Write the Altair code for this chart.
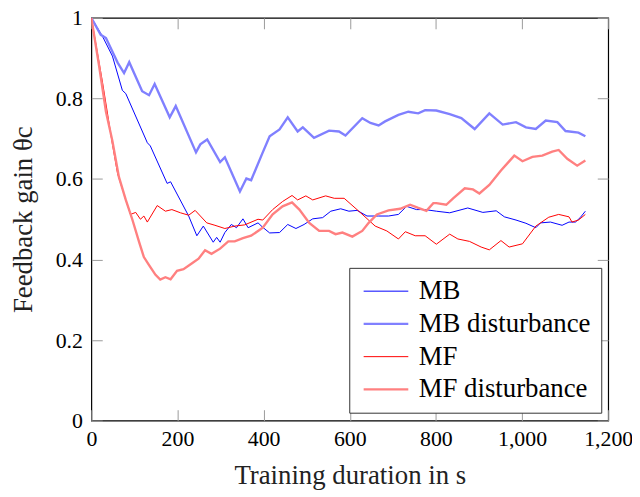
import altair as alt
import pandas as pd

# ---- data ----
series_names = ["MB", "MB disturbance", "MF", "MF disturbance"]

mb_t = [0, 26, 49, 72, 80, 130, 137, 176, 184, 226, 245, 260, 283, 291, 299, 310, 325, 337, 352, 364,
        387, 398, 414, 437, 456, 475, 494, 514, 537, 556, 579, 598, 617, 640, 667, 690, 713, 732, 755, 775,
        801, 832, 874, 909, 940, 959, 986, 1009, 1032, 1043, 1066, 1093, 1109, 1124, 1135, 1147]
mb_v = [1.0, 0.954, 0.905, 0.820, 0.812, 0.690, 0.682, 0.589, 0.593, 0.508, 0.459, 0.483, 0.443, 0.455, 0.443, 0.467, 0.487, 0.479, 0.501, 0.479,
        0.491, 0.480, 0.466, 0.467, 0.487, 0.477, 0.487, 0.501, 0.504, 0.520, 0.526, 0.520, 0.522, 0.508, 0.508, 0.508, 0.512, 0.532, 0.524, 0.524,
        0.520, 0.516, 0.528, 0.517, 0.521, 0.506, 0.498, 0.490, 0.479, 0.491, 0.493, 0.485, 0.493, 0.493, 0.504, 0.520]

mbd_t = [0, 22, 34, 61, 76, 88, 118, 134, 147, 182, 196, 243, 253, 269, 299, 310, 345, 360, 371, 398,
         414, 437, 456, 479, 491, 517, 552, 575, 590, 629, 648, 667, 682, 713, 736, 759, 775, 801, 832, 859,
         890, 924, 955, 986, 1009, 1032, 1055, 1082, 1101, 1131, 1147]
mbd_v = [1.0, 0.958, 0.950, 0.889, 0.863, 0.890, 0.818, 0.808, 0.836, 0.753, 0.781, 0.666, 0.686, 0.698, 0.642, 0.654, 0.569, 0.601, 0.597, 0.666,
         0.706, 0.723, 0.753, 0.718, 0.728, 0.702, 0.720, 0.718, 0.708, 0.751, 0.739, 0.733, 0.743, 0.759, 0.767, 0.763, 0.771, 0.770, 0.761, 0.751,
         0.724, 0.763, 0.735, 0.741, 0.728, 0.724, 0.745, 0.741, 0.719, 0.715, 0.706]

mf_t = [0, 26, 49, 61, 80, 91, 103, 114, 122, 130, 153, 172, 187, 207, 226, 241, 268, 287, 310, 333,
        356, 387, 398, 421, 444, 466, 479, 498, 514, 544, 564, 587, 621, 659, 686, 713, 729, 752, 775, 801,
        832, 851, 878, 905, 924, 951, 970, 1001, 1032, 1062, 1085, 1109, 1116, 1131, 1147]
mf_v = [1.0, 0.840, 0.686, 0.613, 0.548, 0.512, 0.517, 0.500, 0.508, 0.493, 0.534, 0.520, 0.524, 0.516, 0.510, 0.522, 0.491, 0.485, 0.477, 0.483,
        0.486, 0.500, 0.498, 0.524, 0.544, 0.559, 0.548, 0.558, 0.548, 0.558, 0.552, 0.552, 0.520, 0.483, 0.471, 0.451, 0.469, 0.459, 0.459, 0.438,
        0.463, 0.451, 0.445, 0.431, 0.424, 0.447, 0.431, 0.439, 0.483, 0.505, 0.512, 0.506, 0.493, 0.498, 0.512]

mfd_t = [0, 18, 34, 49, 64, 80, 95, 111, 122, 134, 149, 160, 172, 184, 199, 214, 233, 249, 264, 279,
         299, 318, 333, 352, 371, 387, 398, 421, 444, 466, 483, 506, 529, 552, 567, 583, 606, 629, 644, 663,
         690, 717, 740, 759, 778, 794, 801, 824, 840, 867, 886, 901, 924, 951, 982, 1001, 1024, 1047, 1070, 1085,
         1105, 1128, 1147]
mfd_v = [1.0, 0.881, 0.767, 0.694, 0.605, 0.548, 0.500, 0.443, 0.406, 0.386, 0.362, 0.350, 0.356, 0.351, 0.372, 0.376, 0.390, 0.402, 0.423, 0.414,
         0.427, 0.445, 0.445, 0.453, 0.459, 0.471, 0.479, 0.512, 0.532, 0.542, 0.524, 0.491, 0.471, 0.471, 0.463, 0.467, 0.457, 0.471, 0.491, 0.512,
         0.522, 0.526, 0.536, 0.528, 0.521, 0.540, 0.540, 0.536, 0.552, 0.577, 0.574, 0.564, 0.585, 0.621, 0.658, 0.644, 0.655, 0.658, 0.668, 0.672,
         0.650, 0.633, 0.646]

x_ticks = [0, 200, 400, 600, 800, 1000, 1200]
y_ticks = [0, 0.2, 0.4, 0.6, 0.8, 1.0]

colors = ["#0000ff", "#8080ff", "#ff0000", "#ff8080"]
widths = [1.0, 2.4, 1.0, 2.4]

rows = []
for name, ts, vs in zip(series_names, [mb_t, mbd_t, mf_t, mfd_t], [mb_v, mbd_v, mf_v, mfd_v]):
    for t, v in zip(ts, vs):
        rows.append({"series": name, "t": t, "v": v})
df = pd.DataFrame(rows)

FONT = "Liberation Serif"
TICK = "#9a9a9a"

sx = alt.Scale(domain=[0, 1200], nice=False, zero=False)
sy = alt.Scale(domain=[0, 1], nice=False)

legend = alt.Legend(
    title=None, orient="none", legendX=260, legendY=252,
    fillColor="white", strokeColor="#333333", padding=10,
    symbolType="M-1,0H4", symbolSize=324,
    labelFont=FONT, labelFontSize=27, labelColor="black", labelLimit=400,
    rowPadding=5, labelOffset=33,
)

lines = alt.Chart(df).mark_line(clip=True).encode(
    x=alt.X("t:Q", scale=sx, axis=alt.Axis(
        orient="bottom", values=x_ticks, format=",d", title="Training duration in s",
        offset=-11, tickSize=11, domain=False, grid=False, labelPadding=8, titlePadding=13,
        tickColor=TICK, labelFont=FONT, labelFontSize=22, labelColor="black",
        titleFont=FONT, titleFontSize=27, titleFontWeight="normal", titleColor="#222222",
        labelFlush=False, labelOverlap=False)),
    y=alt.Y("v:Q", scale=sy, axis=alt.Axis(
        orient="left", values=y_ticks, format="~g", title="Feedback gain θc",
        offset=-11, tickSize=11, domain=False, grid=False, labelPadding=9, titlePadding=18,
        tickColor=TICK, labelFont=FONT, labelFontSize=22, labelColor="black",
        titleFont=FONT, titleFontSize=27, titleFontWeight="normal", titleColor="#222222",
        labelFlush=False, labelOverlap=False)),
    color=alt.Color("series:N", scale=alt.Scale(domain=series_names, range=colors), legend=legend),
    strokeWidth=alt.StrokeWidth("series:N",
                                scale=alt.Scale(type="ordinal", domain=series_names, range=widths),
                                legend=legend),
)

frame = alt.Chart(df).mark_line(opacity=0).encode(
    x=alt.X("t:Q", scale=sx, axis=alt.Axis(
        orient="top", values=x_ticks, labels=False, title="", offset=-11, tickSize=11,
        domain=False, grid=False, tickColor=TICK)),
    y=alt.Y("v:Q", scale=sy, axis=alt.Axis(
        orient="right", values=y_ticks, labels=False, title="", offset=-11, tickSize=11,
        domain=False, grid=False, tickColor=TICK)),
)

chart = alt.layer(lines, frame).resolve_axis(x="independent", y="independent").properties(
    width=521, height=406,
    padding={"left": 84, "top": 8, "right": 24, "bottom": 70},
    autosize=alt.AutoSizeParams(type="none"),
).configure_view(stroke="black", strokeWidth=1.2)

chart.save("out.html", embed_options={"renderer": "svg", "actions": False})
